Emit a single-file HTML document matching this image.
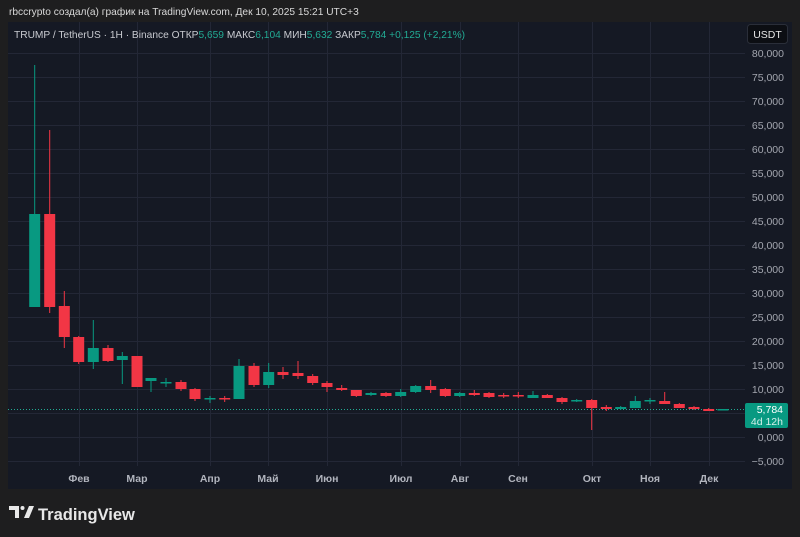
<!DOCTYPE html>
<html><head><meta charset="utf-8"><style>
html,body{margin:0;padding:0;background:#1e1e1f;width:800px;height:537px;overflow:hidden;font-family:"Liberation Sans","DejaVu Sans",sans-serif}
</style></head><body>
<svg id="s" width="800" height="537" xmlns="http://www.w3.org/2000/svg" style="position:absolute;left:0;top:0">
<text x="9" y="15" fill="#d8d8d8" font-size="10.2">rbccrypto создал(а) график на TradingView.com, Дек 10, 2025 15:21 UTC+3</text>
<rect x="8" y="22" width="784" height="467" fill="#151924"/>
<g id="grid" stroke="#232736" stroke-width="1"></g>
<text x="14" y="38" font-size="10.2" fill="#c8cad0">TRUMP / TetherUS · 1H · Binance  <tspan>ОТКР</tspan><tspan fill="#22ab94">5,659</tspan>  МАКС<tspan fill="#22ab94">6,104</tspan>  МИН<tspan fill="#22ab94">5,632</tspan>  ЗАКР<tspan fill="#22ab94">5,784  +0,125 (+2,21%)</tspan></text>
<rect x="747.5" y="24.5" width="40" height="19" rx="3" fill="#0c0e13" stroke="#2a2e39"/>
<text x="767.5" y="38" font-size="10.5" fill="#e6e6e6" text-anchor="middle">USDT</text>
<g id="ylab" font-size="10.5" fill="#a3a6af" text-anchor="end"></g>
<g id="xlab" font-size="10.5" fill="#b2b5be" text-anchor="middle" font-weight="bold"></g>
<line x1="8" y1="409.5" x2="745" y2="409.5" stroke="#22ab94" stroke-dasharray="1,2"/>
<g id="c"></g>
<rect x="745" y="403" width="43" height="25" rx="2" fill="#089981"/>
<text x="783" y="413" font-size="10.5" fill="#fff" text-anchor="end">5,784</text>
<text x="783" y="425" font-size="10.5" fill="#d6f0ea" text-anchor="end">4d 12h</text>
<g transform="translate(9,506)" fill="#e8e8e8">
<path d="M0 0h10v12h-4v-8h-6z"/><circle cx="13.5" cy="2" r="2"/><path d="M15 12l5-12h5l-5 12z"/>
</g>
<text x="38" y="520" font-size="16.5" font-weight="bold" fill="#e8e8e8">TradingView</text>
</svg>
<script>
var N="http://www.w3.org/2000/svg";
function el(p,t,a,tx){var e=document.createElementNS(N,t);for(var k in a)e.setAttribute(k,a[k]);if(tx)e.textContent=tx;document.getElementById(p).appendChild(e);}
for(var i=0;i<=17;i++){var y=53+i*24;var v=80-i*5;
el('grid','line',{x1:8,x2:745,y1:y+0.5,y2:y+0.5});
el('ylab','text',{x:784,y:y+4},(v<0?'−'+(-v):v)+','+'000');}
var mx=[[79,'Фев'],[137,'Мар'],[210,'Апр'],[268,'Май'],[327,'Июн'],[401,'Июл'],[460,'Авг'],[518,'Сен'],[592,'Окт'],[650,'Ноя'],[709,'Дек']];
mx.forEach(function(m){el('grid','line',{x1:m[0]+0.5,x2:m[0]+0.5,y1:22,y2:466});el('xlab','text',{x:m[0],y:482},m[1]);});
var G='#089981',R='#f23645';
var c=[[34.7,214,307,65,307,G],[49.7,214,307,130,313,R],[64.3,306,337,291,348,R],[78.7,337,362,336,364,R],[93.3,348,362,320,369,G],[108,348,361,345,362,R],[122.3,356,360,352,384,G],[137,356,387,356,387,R],[151,378,381,378,392,G],[166,382,383,378,387,G],[181,382,389,380,391,R],[195,389,399,388,401,R],[210,398,399,396,403,G],[224.7,398,399,396,402,R],[239,366,399,359,399,G],[254,366,385,363,387,R],[268.7,372,385,363,388,G],[283,372,375,367,379,R],[298,373,376,361,379,R],[312.7,376,383,374,385,R],[327,383,387,381,392,R],[341.7,388,390,385,391,R],[356.3,390,396,390,397,R],[371,393,395,392,396,G],[386,393,396,392,397,R],[400.7,392,396,389,397,G],[415.7,386,392,385,393,G],[430.7,386,390,380,393,R],[445.3,389,396,388,397,R],[459.7,393,396,392,397,G],[474.3,393,395,390,396,R],[489,393,397,392,398,R],[503.7,395,396,393,398,R],[518.3,395,396,392,398,R],[533,395,398,391,398,G],[547.3,395,398,394,398,R],[562,398,402,397,404,R],[576.7,400,401,399,402,G],[591.7,400,408,399,430,R],[606.3,407,409,405,411,R],[620.7,407,409,406,410,G],[635.3,401,408,396,408,G],[650,400,401,398,404,G],[664.7,401,404,392,404,R],[679.3,404,408,403,408,R],[694,407,409,406,410,R],[708.7,409,411,408,411,R],[723,409,410,409,410,G]];
c.forEach(function(d){var x=d[0];
el('c','line',{x1:x,x2:x,y1:d[3],y2:d[4],stroke:d[5],'stroke-width':1});
el('c','rect',{x:x-5.5,y:d[1],width:11,height:Math.max(1.5,d[2]-d[1]),fill:d[5]});});
</script>
</body></html>
